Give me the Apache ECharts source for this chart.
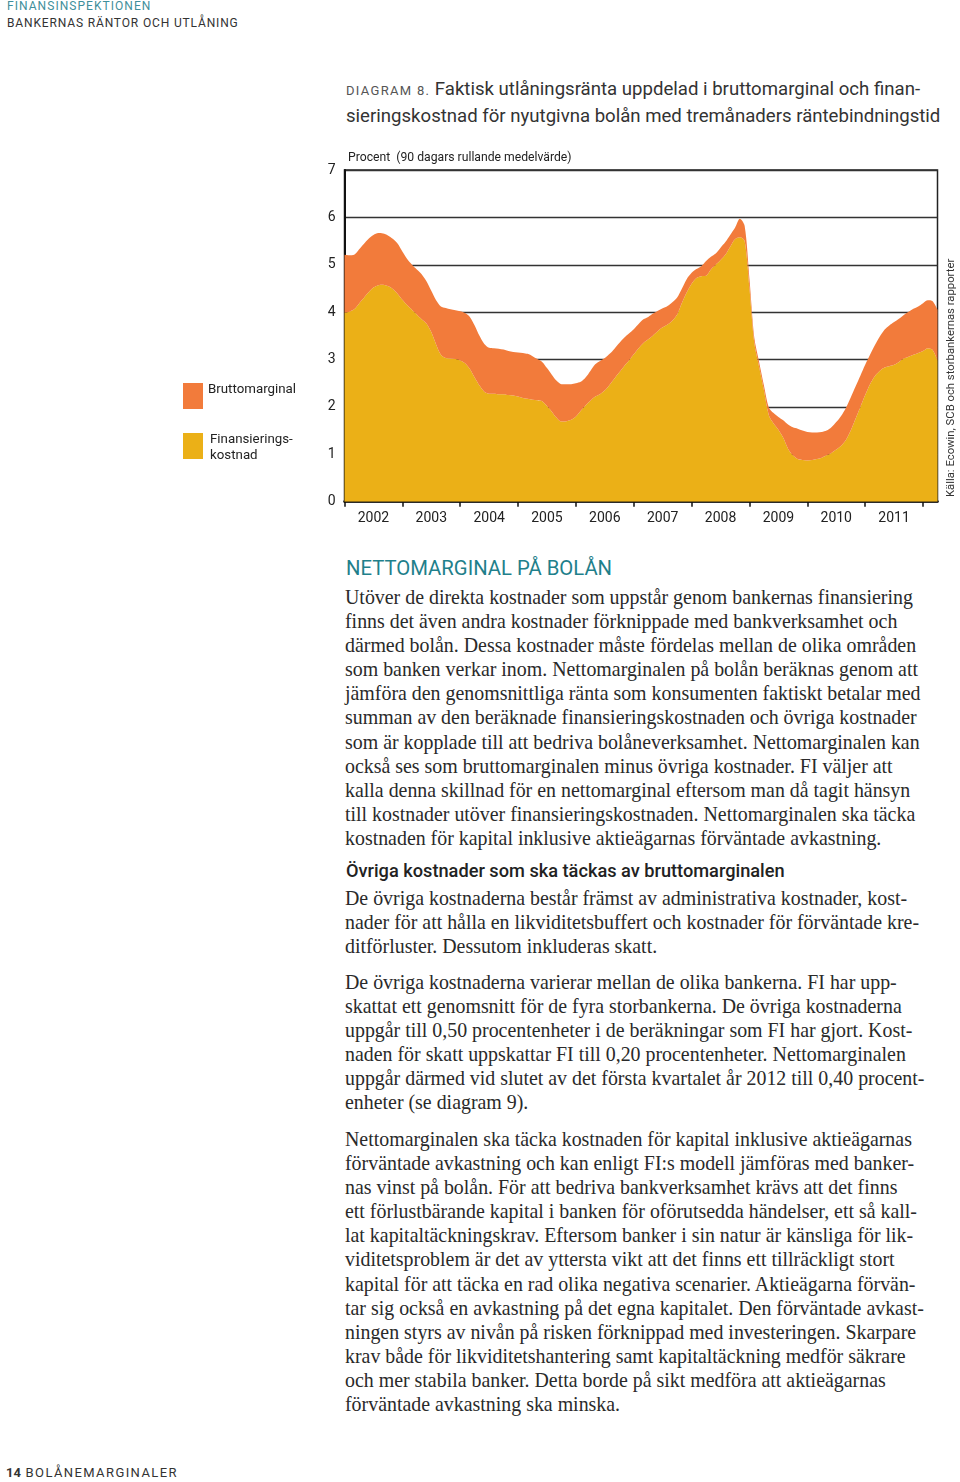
<!DOCTYPE html>
<html>
<head>
<meta charset="utf-8">
<script src="https://cdn.jsdelivr.net/npm/echarts@6/dist/echarts.min.js"></script>
<style>
  html, body { margin: 0; padding: 0; background: #fff; }
  body { width: 960px; height: 1482px; position: relative; overflow: hidden; }
  .abs { position: absolute; white-space: nowrap; }
  .cond { font-family: Roboto, "Liberation Sans", sans-serif; }
  .serif { font-family: "Liberation Serif", "DejaVu Serif", serif; font-size: 19.9px; line-height: 24.1px; color: #2a2a2a; }
  #chart { position: absolute; left: 0; top: 0; width: 960px; height: 540px; }
</style>
</head>
<body>
<div class="abs cond" style="left:7px;top:-1px;font-size:12px;letter-spacing:1.05px;color:#3f8f9b;">FINANSINSPEKTIONEN</div>
<div class="abs cond" style="left:7px;top:16px;font-size:12px;letter-spacing:0.85px;color:#333;">BANKERNAS RÄNTOR OCH UTLÅNING</div>

<div class="abs cond" style="left:346px;top:77px;font-size:18.6px;color:#333;line-height:24.5px;">
<span style="font-size:13px;letter-spacing:1.3px;color:#555;">DIAGRAM 8.</span> Faktisk utlåningsränta uppdelad i bruttomarginal och finan-<br>sieringskostnad för nyutgivna bolån med tremånaders räntebindningstid</div>

<div id="chart"></div>

<div class="abs" style="left:183px;top:383px;width:20px;height:26px;background:#f27b3b;"></div>
<div class="abs" style="left:183px;top:433px;width:20px;height:26px;background:#ebb017;"></div>
<div class="abs cond" style="left:208px;top:381px;font-size:13.3px;color:#222;">Bruttomarginal</div>
<div class="abs cond" style="left:210px;top:431px;font-size:13.3px;color:#222;line-height:16px;">Finansierings-<br>kostnad</div>

<div class="abs cond" style="left:346px;top:556px;font-size:20.3px;color:#1f808b;">NETTOMARGINAL PÅ BOLÅN</div>
<div class="abs serif" style="left:345px;top:585px;">Utöver de direkta kostnader som uppstår genom bankernas finansiering<br>finns det även andra kostnader förknippade med bankverksamhet och<br>därmed bolån. Dessa kostnader måste fördelas mellan de olika områden<br>som banken verkar inom. Nettomarginalen på bolån beräknas genom att<br>jämföra den genomsnittliga ränta som konsumenten faktiskt betalar med<br>summan av den beräknade finansieringskostnaden och övriga kostnader<br>som är kopplade till att bedriva bolåneverksamhet. Nettomarginalen kan<br>också ses som bruttomarginalen minus övriga kostnader. FI väljer att<br>kalla denna skillnad för en nettomarginal eftersom man då tagit hänsyn<br>till kostnader utöver finansieringskostnaden. Nettomarginalen ska täcka<br>kostnaden för kapital inklusive aktieägarnas förväntade avkastning.</div>

<div class="abs cond" style="left:346px;top:860px;font-size:18.2px;font-weight:500;color:#222;">Övriga kostnader som ska täckas av bruttomarginalen</div>
<div class="abs serif" style="left:345px;top:886px;">De övriga kostnaderna består främst av administrativa kostnader, kost-<br>nader för att hålla en likviditetsbuffert och kostnader för förväntade kre-<br>ditförluster. Dessutom inkluderas skatt.</div>

<div class="abs serif" style="left:345px;top:970px;">De övriga kostnaderna varierar mellan de olika bankerna. FI har upp-<br>skattat ett genomsnitt för de fyra storbankerna. De övriga kostnaderna<br>uppgår till 0,50 procentenheter i de beräkningar som FI har gjort. Kost-<br>naden för skatt uppskattar FI till 0,20 procentenheter. Nettomarginalen<br>uppgår därmed vid slutet av det första kvartalet år 2012 till 0,40 procent-<br>enheter (se diagram 9).</div>

<div class="abs serif" style="left:345px;top:1127px;">Nettomarginalen ska täcka kostnaden för kapital inklusive aktieägarnas<br>förväntade avkastning och kan enligt FI:s modell jämföras med banker-<br>nas vinst på bolån. För att bedriva bankverksamhet krävs att det finns<br>ett förlustbärande kapital i banken för oförutsedda händelser, ett så kall-<br>lat kapitaltäckningskrav. Eftersom banker i sin natur är känsliga för lik-<br>viditetsproblem är det av yttersta vikt att det finns ett tillräckligt stort<br>kapital för att täcka en rad olika negativa scenarier. Aktieägarna förvän-<br>tar sig också en avkastning på det egna kapitalet. Den förväntade avkast-<br>ningen styrs av nivån på risken förknippad med investeringen. Skarpare<br>krav både för likviditetshantering samt kapitaltäckning medför säkrare<br>och mer stabila banker. Detta borde på sikt medföra att aktieägarnas<br>förväntade avkastning ska minska.</div>

<div class="abs cond" style="left:6px;top:1465px;font-size:13px;color:#333;letter-spacing:1.4px;"><b style="letter-spacing:0;">14</b> BOLÅNEMARGINALER</div>

<script>
// Years shown on the x axis; data are monthly from 2002-01 to 2012-04
var years = ['2002','2003','2004','2005','2006','2007','2008','2009','2010','2011','2012'];
var yTicks = [0, 1, 2, 3, 4, 5, 6, 7];
var months = ['01','02','03','04','05','06','07','08','09','10','11','12'];
var categories = [];
for (var yi = 0; yi < years.length; yi++) {
  for (var mi = 0; mi < 12; mi++) {
    if (years[yi] === '2012' && mi > 3) break;
    categories.push(years[yi] + '-' + months[mi]);
  }
}

// Finansieringskostnad (procent), monthly
var finansieringskostnad = [
  3.99,4.01,4.06,4.18,4.30,4.42,4.52,4.57,4.58,4.55,4.49,4.39,
  4.26,4.15,4.05,3.95,3.85,3.76,3.58,3.32,3.10,3.03,3.02,3.01,
  2.98,2.92,2.80,2.62,2.45,2.32,2.28,2.28,2.27,2.27,2.25,2.24,
  2.22,2.19,2.17,2.15,2.14,2.12,2.02,1.90,1.77,1.69,1.70,1.73,
  1.80,1.92,2.03,2.13,2.22,2.27,2.35,2.47,2.60,2.73,2.86,2.98,
  3.11,3.24,3.35,3.43,3.51,3.60,3.68,3.74,3.82,3.95,4.20,4.42,
  4.60,4.72,4.76,4.77,4.90,5.00,5.10,5.21,5.38,5.54,5.58,5.50,
  4.50,3.35,2.85,2.35,1.83,1.65,1.52,1.35,1.12,0.98,0.90,0.88,
  0.87,0.88,0.90,0.93,0.98,1.03,1.10,1.18,1.30,1.50,1.75,2.00,
  2.25,2.48,2.65,2.76,2.83,2.86,2.89,2.95,3.02,3.06,3.10,3.14,
  3.18,3.24,3.20,2.98
];

// Bruttomarginal (procentenheter), monthly, stacked on top
var bruttomarginal = [
  1.22,1.19,1.15,1.14,1.14,1.13,1.11,1.10,1.08,1.07,1.06,1.06,
  1.02,0.97,0.95,0.95,0.95,0.89,0.87,0.93,1.02,1.06,1.04,1.03,
  1.04,1.06,1.10,1.10,1.05,1.01,0.97,0.96,0.96,0.94,0.93,0.92,
  0.93,0.95,0.95,0.92,0.87,0.83,0.80,0.78,0.78,0.79,0.78,0.75,
  0.70,0.61,0.59,0.63,0.68,0.70,0.68,0.65,0.63,0.62,0.60,0.57,
  0.53,0.51,0.50,0.47,0.46,0.43,0.40,0.39,0.39,0.36,0.30,0.28,
  0.23,0.19,0.21,0.31,0.27,0.24,0.26,0.27,0.25,0.24,0.39,0.32,
  0.20,0.11,0.10,0.10,0.16,0.22,0.27,0.37,0.51,0.59,0.64,0.62,
  0.60,0.58,0.56,0.54,0.52,0.54,0.58,0.63,0.68,0.70,0.68,0.66,
  0.64,0.62,0.65,0.72,0.80,0.86,0.90,0.91,0.92,0.95,0.97,0.98,
  1.01,1.01,1.03,1.07
];

var chart = echarts.init(document.getElementById('chart'), null, { renderer: 'canvas' });
var fontCond = 'Roboto, "Liberation Sans", sans-serif';
chart.setOption({
  animation: false,
  grid: { left: 344.5, top: 170, width: 593, height: 331.7, show: true, borderColor: '#222', borderWidth: 1.5, backgroundColor: 'transparent' },
  title: {
    text: 'Procent  (90 dagars rullande medelvärde)',
    left: 343, top: 147,
    textStyle: { fontFamily: fontCond, fontSize: 12.2, fontWeight: 'normal', color: '#222' }
  },
  graphic: [{
    type: 'text',
    x: 951, y: 497,
    rotation: Math.PI / 2,
    style: { text: 'Källa: Ecowin, SCB och storbankernas rapporter', font: '11.3px ' + fontCond, fill: '#333', textAlign: 'left', textVerticalAlign: 'middle' }
  }],
  xAxis: {
    type: 'category',
    data: categories,
    boundaryGap: false,
    axisLine: { lineStyle: { color: '#111', width: 2.5 } },
    axisTick: { show: true, length: 5, lineStyle: { color: '#111', width: 1.5 },
      interval: function (idx) { return idx % 12 === 0; } },
    axisLabel: {
      interval: function (idx) { return idx % 12 === 6; },
      formatter: function (v) { return v.slice(0, 4); },
      margin: 10, fontFamily: fontCond, fontSize: 14, color: '#222'
    },
    splitLine: { show: false }
  },
  yAxis: {
    type: 'value',
    min: yTicks[0], max: yTicks[yTicks.length - 1], interval: 1,
    axisLine: { show: true, lineStyle: { color: '#111', width: 2 } },
    axisTick: { show: false },
    axisLabel: { margin: 9, fontFamily: fontCond, fontSize: 14, color: '#222',
      formatter: function (v) { return yTicks.indexOf(v) >= 0 ? String(v) : ''; } },
    splitLine: { show: true, lineStyle: { color: '#333', width: 1.3 } }
  },
  series: [
    {
      name: 'Finansieringskostnad', type: 'line', stack: 'total',
      data: finansieringskostnad, symbol: 'none', smooth: 0.3,
      lineStyle: { width: 0 }, areaStyle: { color: '#ebb017', opacity: 1 }, z: 2
    },
    {
      name: 'Bruttomarginal', type: 'line', stack: 'total',
      data: bruttomarginal, symbol: 'none', smooth: 0.3,
      lineStyle: { width: 0 }, areaStyle: { color: '#f27b3b', opacity: 1 }, z: 2
    }
  ]
});
</script>
</body>
</html>
